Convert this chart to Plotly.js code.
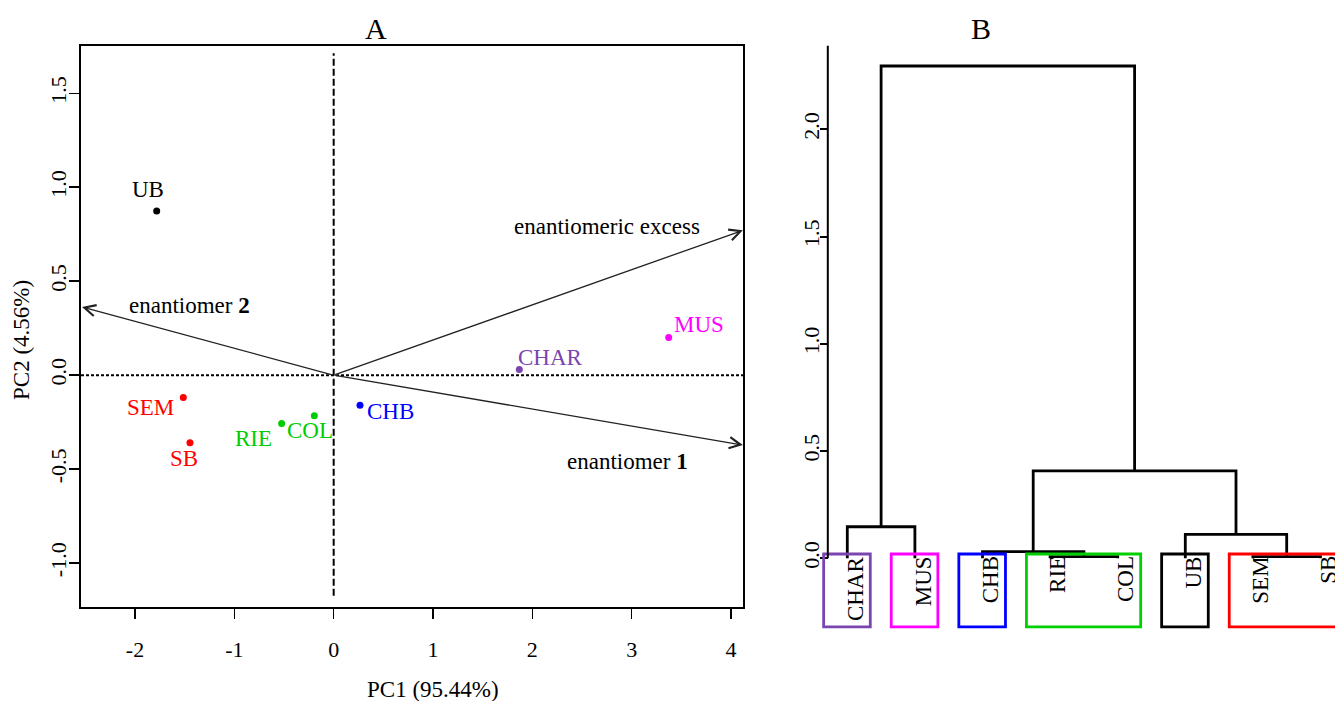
<!DOCTYPE html>
<html>
<head>
<meta charset="utf-8">
<script src="https://cdn.plot.ly/plotly-3.0.1.min.js"></script>
<style>html,body{margin:0;padding:0;background:#fff;}#chart{width:1335px;height:701px;}</style>
</head>
<body>
<div id="chart"></div>
<script>
// ---------- DATA: Panel A (PCA biplot) ----------
const sampleNames = ['UB', 'SEM', 'SB', 'RIE', 'COL', 'CHB', 'CHAR', 'MUS'];
const pc1Scores   = [-1.782, -1.514, -1.447, -0.524, -0.195, 0.265, 1.869, 3.373];
const pc2Scores   = [0.874, -0.119, -0.360, -0.257, -0.216, -0.160, 0.030, 0.200];
const sampleColors = ['#000000', '#FF0000', '#FF0000', '#00CD00', '#00CD00', '#0000FF', '#7B45B0', '#FF00FF'];

const loadingNames = ['enantiomeric excess', 'enantiomer <b>1</b>', 'enantiomer <b>2</b>'];
const loadingPC1   = [4.12, 4.12, -2.534];
const loadingPC2   = [0.771, -0.372, 0.363];

const xTickVals = [-2, -1, 0, 1, 2, 3, 4];
const xTickText = ['-2', '-1', '0', '1', '2', '3', '4'];
const yTickVals = [-1.0, -0.5, 0.0, 0.5, 1.0, 1.5];
const yTickText = ['-1.0', '-0.5', '0.0', '0.5', '1.0', '1.5'];

// ---------- DATA: Panel B (dendrogram) ----------
const leafOrder   = ['CHAR', 'MUS', 'CHB', 'RIE', 'COL', 'UB', 'SEM', 'SB'];
// R-style merge table: negative = leaf (1-based in leafOrder), positive = earlier merge
const mergeLeft   = [-1, -4, -3, -7, -6, 3, 1];
const mergeRight  = [-2, -5, 2, -8, 4, 5, 6];
const mergeHeight = [0.147, 0.0075, 0.031, 0.0075, 0.112, 0.408, 2.295];
const groupMembers = [['CHAR'], ['MUS'], ['CHB'], ['RIE', 'COL'], ['UB'], ['SEM', 'SB']];
const groupColors  = ['#7B45B0', '#FF00FF', '#0000FF', '#00D000', '#000000', '#FF0000'];
const dendTickVals = [0, 0.5, 1.0, 1.5, 2.0];
const dendTickText = ['0.0', '0.5', '1.0', '1.5', '2.0'];
const dendAxisTop  = 2.39;

// ---------- STYLE ----------
const W = 1335, H = 701;
const FONT = 'Liberation Serif, Times New Roman, serif';
const PX = p => p / W;
const PY = p => 1 - p / H;
const labelShift = {
  UB:   [-9, 21], SEM: [-33, -10], SB: [-6, -16], RIE: [-28, -15],
  COL:  [-4, -15], CHB: [30, -6], CHAR: [31, 12], MUS: [30, 13]
};
const loadingLabelShift = [[-136, 4], [-115, -16], [108, 1]];
const dendAxisPx = 827.8;   // pixel position of the dendrogram height axis
const leafSpacingPx = 67.6, firstLeafPx = 847.3;

// ---------- Panel A traces ----------
const traces = [];
traces.push({
  type: 'scatter', mode: 'markers', x: pc1Scores, y: pc2Scores,
  xaxis: 'x', yaxis: 'y',
  marker: {color: sampleColors, size: 7}, hoverinfo: 'text', text: sampleNames
});

const annotations = [];
const shapes = [];

sampleNames.forEach((n, i) => {
  annotations.push({
    xref: 'x', yref: 'y', x: pc1Scores[i], y: pc2Scores[i],
    text: n, showarrow: false, xshift: labelShift[n][0], yshift: labelShift[n][1],
    font: {family: FONT, size: 23, color: sampleColors[i]}
  });
});

loadingNames.forEach((n, i) => {
  annotations.push({
    xref: 'x', yref: 'y', x: loadingPC1[i], y: loadingPC2[i],
    axref: 'x', ayref: 'y', ax: 0, ay: 0,
    text: '', showarrow: true, arrowhead: 5, arrowsize: 1.7, arrowwidth: 1.3,
    arrowcolor: '#222', standoff: 0, startstandoff: 0
  });
  annotations.push({
    xref: 'x', yref: 'y', x: loadingPC1[i], y: loadingPC2[i],
    text: n, showarrow: false,
    xshift: loadingLabelShift[i][0], yshift: loadingLabelShift[i][1],
    font: {family: FONT, size: 23, color: '#000'}
  });
});

// reference lines through origin
shapes.push({type: 'line', xref: 'x', yref: 'y domain', x0: 0, x1: 0, y0: 0.02, y1: 0.987,
  line: {color: '#000', width: 2, dash: '7px,3px'}});
shapes.push({type: 'line', xref: 'x domain', yref: 'y', x0: 0, x1: 1, y0: 0, y1: 0,
  line: {color: '#000', width: 2, dash: '3px,2px'}});

// ---------- Panel B: dendrogram ----------
const mPos = [], mH = [];
const nodePos = k => k < 0 ? -k : mPos[k - 1];
const nodeH = k => k < 0 ? 0 : mH[k - 1];
const dx = [], dy = [];
for (let i = 0; i < mergeHeight.length; i++) {
  const a = mergeLeft[i], b = mergeRight[i], h = mergeHeight[i];
  const xa = nodePos(a), xb = nodePos(b);
  dx.push(xa, xa, xb, xb, null);
  dy.push(nodeH(a), h, h, nodeH(b), null);
  mPos.push((xa + xb) / 2); mH.push(h);
}
traces.push({
  type: 'scatter', mode: 'lines', x: dx, y: dy, xaxis: 'x2', yaxis: 'y2',
  line: {color: '#000', width: 2.8}, hoverinfo: 'skip', connectgaps: false
});

leafOrder.forEach((n, i) => {
  annotations.push({
    xref: 'x2', yref: 'y2', x: i + 1, y: 0, yanchor: 'top', xanchor: 'center',
    text: n, textangle: -90, showarrow: false, yshift: 4, xshift: 8,
    font: {family: FONT, size: 23, color: '#000'}
  });
});

groupMembers.forEach((g, gi) => {
  const first = leafOrder.indexOf(g[0]) + 1;
  const last = leafOrder.indexOf(g[g.length - 1]) + 1;
  shapes.push({type: 'rect', xref: 'x2', yref: 'y2',
    x0: first - 0.35, x1: last + 0.34, y0: -0.32, y1: 0.02,
    line: {color: groupColors[gi], width: 2.8}, fillcolor: 'rgba(0,0,0,0)'});
});

// dendrogram axis line
shapes.push({type: 'line', xref: 'paper', yref: 'y2', x0: PX(dendAxisPx), x1: PX(dendAxisPx), y0: 0, y1: dendAxisTop,
  line: {color: '#000', width: 2}});

// titles
const paperText = (x, y, text, size, angle) => ({
  xref: 'paper', yref: 'paper', x: PX(x), y: PY(y), xanchor: 'center', yanchor: 'middle',
  text: text, showarrow: false, textangle: angle || 0,
  font: {family: FONT, size: size, color: '#000'}
});
annotations.push(paperText(376, 28, 'A', 30));
annotations.push(paperText(981, 28, 'B', 30));
annotations.push(paperText(433, 689, 'PC1 (95.44%)', 23));
annotations.push(paperText(21, 340, 'PC2 (4.56%)', 23, -90));

const x2Left = 790;
const layout = {
  width: W, height: H, margin: {l: 0, r: 0, t: 0, b: 0},
  paper_bgcolor: '#fff', plot_bgcolor: 'rgba(0,0,0,0)', showlegend: false,
  font: {family: FONT, color: '#000'},
  xaxis: {
    domain: [PX(81), PX(743)], range: [-2.544, 4.121], anchor: 'y',
    tickvals: xTickVals, ticktext: xTickText, ticks: 'outside', ticklen: 10, tickwidth: 1.6, tickcolor: '#000',
    showline: true, mirror: true, linewidth: 2, linecolor: '#000',
    showgrid: false, zeroline: false, ticklabelstandoff: 12,
    tickfont: {family: FONT, size: 22, color: '#000'}
  },
  yaxis: {
    domain: [PY(607), PY(46)], range: [-1.234, 1.752], anchor: 'x',
    tickvals: yTickVals, ticktext: yTickText, ticks: 'outside', ticklen: 10, tickwidth: 1.6, tickcolor: '#000',
    tickangle: -90, showline: true, mirror: true, linewidth: 2, linecolor: '#000',
    showgrid: false, zeroline: false, ticklabelstandoff: -6,
    tickfont: {family: FONT, size: 22, color: '#000'}
  },
  xaxis2: {
    domain: [PX(x2Left), 1],
    range: [1 - (firstLeafPx - x2Left) / leafSpacingPx, 1 + (W - firstLeafPx) / leafSpacingPx],
    anchor: 'y2', visible: false
  },
  yaxis2: {
    domain: [0, 1], range: [(558.3 - 701) / 214.5, 558.3 / 214.5], anchor: 'free', position: PX(dendAxisPx),
    tickvals: dendTickVals, ticktext: dendTickText, ticks: 'outside', ticklen: 8, tickwidth: 2, tickcolor: '#000',
    tickangle: -90, showline: false, showgrid: false, zeroline: false, ticklabelstandoff: -8,
    tickfont: {family: FONT, size: 22, color: '#000'}
  },
  annotations: annotations,
  shapes: shapes
};

Plotly.newPlot('chart', traces, layout, {displayModeBar: false, staticPlot: true});
</script>
</body>
</html>
